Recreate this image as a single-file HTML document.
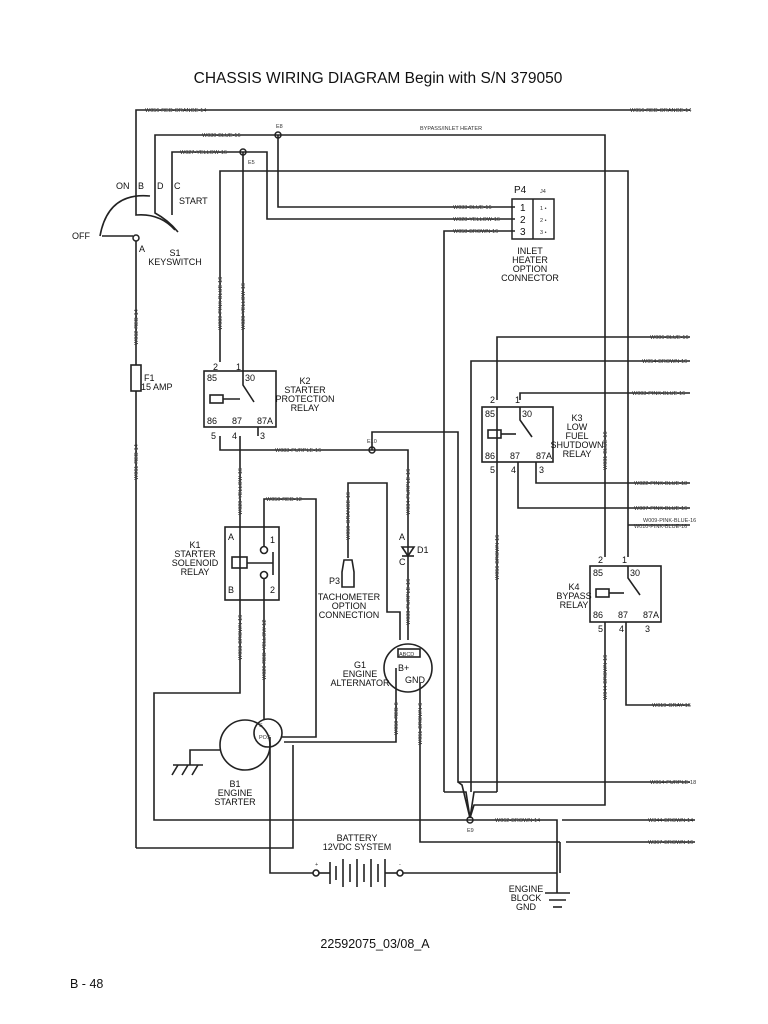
<!DOCTYPE html>
<html><head><meta charset="utf-8"><style>
html,body{margin:0;padding:0;background:#fff;}
svg{display:block;}
text{font-family:"Liberation Sans",sans-serif;fill:#111;}
.s{font-size:5.5px;fill:#333;}
.m{font-size:9px;}
.n{font-size:10px;}
</style></head><body>
<svg width="768" height="1024" viewBox="0 0 768 1024" xmlns="http://www.w3.org/2000/svg">
<rect width="768" height="1024" fill="#fff"/>
<text x="378" y="83" font-size="15.5" text-anchor="middle">CHASSIS WIRING DIAGRAM Begin with S/N 379050</text>
<g fill="none" stroke="#222" stroke-width="1.6">
<polyline points="136,200 136,110 690,110"/>
<polyline points="155,200 155,135 605,135 605,557"/>
<polyline points="278,135 278,207 515,207"/>
<polyline points="172,205 172,152 267,152 267,219 515,219"/>
<polyline points="243,152 243,362"/>
<polyline points="220,362 220,171 628,171 628,557"/>
<polyline points="628,525 690,525"/>
<polyline points="444,792 444,231 515,231"/>
<path d="M100,236 Q108,192 150,196"/>
<path d="M136,200 L136,215 Q160,213 175,230"/>
<path d="M155,200 L155,213 Q168,220 178,232"/>
<path d="M172,205 L172,215"/>
<line x1="102" y1="236" x2="133" y2="236"/>
<line x1="136" y1="241" x2="136" y2="848"/>
<polyline points="136,848 293,848 293,745"/>
<rect x="131" y="365" width="10" height="26" fill="#fff"/>
<rect x="204" y="371" width="72" height="56"/>
<rect x="210" y="395" width="13" height="8"/>
<line x1="223" y1="399" x2="240" y2="399"/>
<polyline points="243,362 243,385 254,402"/>
<polyline points="220,436 220,450 408,450 408,640"/>
<line x1="240" y1="436" x2="240" y2="527"/>
<line x1="258" y1="427" x2="258" y2="436"/>
<polyline points="372,450 372,432 458,432 458,782 690,782"/>
<rect x="225" y="527" width="54" height="73"/>
<rect x="232" y="557" width="15" height="11"/>
<polyline points="247,563 273,563"/>
<line x1="273" y1="552" x2="273" y2="575"/>
<circle cx="264" cy="550" r="3.5"/>
<circle cx="264" cy="575" r="3.5"/>
<polyline points="264,546 264,499 316,499 316,737 282,737"/>
<line x1="240" y1="527" x2="240" y2="600"/>
<polyline points="240,600 240,693 154,693 154,820 470,820"/>
<line x1="264" y1="579" x2="264" y2="720"/>
<circle cx="245" cy="745" r="25"/>
<circle cx="268" cy="733" r="14"/>
<polyline points="220,750 190,750 190,765"/>
<line x1="173" y1="765" x2="203" y2="765"/>
<line x1="178" y1="765" x2="172" y2="775"/><line x1="188" y1="765" x2="182" y2="775"/><line x1="198" y1="765" x2="192" y2="775"/>
<polyline points="270,737 270,873 313,873"/>
<polyline points="348,558 348,483 387,483 387,612 400,612 400,640"/>
<path d="M344,560 L352,560 L354,572 L354,587 L342,587 L342,572 Z"/>
<path d="M402,547 L414,547 L408,556 Z"/>
<line x1="402" y1="556" x2="414" y2="556"/>
<circle cx="408" cy="668" r="24"/>
<rect x="398" y="649" width="22" height="8"/>
<polyline points="396,668 396,742 284,742"/>
<polyline points="420,683 420,842 560,842"/>
<circle cx="316" cy="873" r="3"/>
<circle cx="400" cy="873" r="3"/>
<line x1="403" y1="873" x2="557" y2="873"/>
<line x1="330" y1="862" x2="330" y2="884"/>
<line x1="336" y1="866" x2="336" y2="880"/>
<line x1="343" y1="859" x2="343" y2="887"/>
<line x1="350" y1="864" x2="350" y2="882"/>
<line x1="357" y1="859" x2="357" y2="887"/>
<line x1="364" y1="864" x2="364" y2="882"/>
<line x1="371" y1="859" x2="371" y2="887"/>
<line x1="378" y1="864" x2="378" y2="882"/>
<line x1="385" y1="859" x2="385" y2="887"/>
<line x1="319" y1="873" x2="330" y2="873"/><line x1="385" y1="873" x2="397" y2="873"/>
<polyline points="470,820 557,820 557,893"/>
<polyline points="562,820 695,820"/>
<polyline points="560,842 560,873"/>
<polyline points="566,842 695,842"/>
<line x1="545" y1="893" x2="570" y2="893"/>
<line x1="549" y1="900" x2="566" y2="900"/>
<line x1="553" y1="907" x2="562" y2="907"/>
<polyline points="444,792 466,792 470,818"/>
<polyline points="458,782 462,785 470,818"/>
<polyline points="497,792 474,792 470,818"/>
<polyline points="605,622 605,805 474,805 470,818"/>
<polyline points="497,400 497,337 690,337"/>
<polyline points="471,792 471,361 690,361"/>
<polyline points="520,400 520,393 690,393"/>
<rect x="482" y="407" width="71" height="55"/>
<rect x="488" y="430" width="13" height="8"/>
<line x1="501" y1="434" x2="516" y2="434"/>
<polyline points="520,407 520,420 532,437"/>
<line x1="497" y1="407" x2="497" y2="792"/>
<polyline points="536,462 536,483 690,483"/>
<polyline points="518,462 518,508 690,508"/>
<rect x="590" y="566" width="71" height="56"/>
<rect x="596" y="589" width="13" height="8"/>
<line x1="609" y1="593" x2="624" y2="593"/>
<polyline points="628,566 628,578 640,595"/>
<polyline points="626,622 626,705 690,705"/>
</g>
<g>
<circle cx="278" cy="135" r="3" fill="none" stroke="#222" stroke-width="1.5"/><circle cx="243" cy="152" r="3" fill="none" stroke="#222" stroke-width="1.5"/>
<circle cx="372" cy="450" r="3" fill="none" stroke="#222" stroke-width="1.5"/><circle cx="470" cy="820" r="3" fill="none" stroke="#222" stroke-width="1.5"/>
<circle cx="136" cy="238" r="3" fill="#fff" stroke="#222" stroke-width="1.5"/>
</g>
<text class="s" x="145" y="112">W056-RED-ORANGE-14</text>
<text class="s" x="630" y="112">W056-RED-ORANGE-14</text>
<text class="s" x="202" y="137">W030-BLUE-16</text>
<text class="s" x="420" y="130">BYPASS/INLET HEATER</text>
<text class="s" x="180" y="154">W027-YELLOW-16</text>
<text class="s" x="276" y="128">E8</text><text class="s" x="248" y="164">E5</text>
<text class="s" x="453" y="209">W033-BLUE-16</text>
<text class="s" x="453" y="221">W028-YELLOW-16</text>
<text class="s" x="453" y="233">W058-BROWN-16</text>
<text class="n" x="514" y="193">P4</text><text class="s" x="540" y="193">J4</text>
<rect x="512" y="199" width="42" height="40" fill="none" stroke="#222" stroke-width="1.5"/>
<line x1="533" y1="199" x2="533" y2="239" stroke="#222" stroke-width="1.5"/>
<text class="n" x="520" y="211">1</text><text class="n" x="520" y="223">2</text><text class="n" x="520" y="235">3</text>
<text class="s" x="540" y="210">1 •</text><text class="s" x="540" y="222">2 •</text><text class="s" x="540" y="234">3 •</text>
<text class="m" x="530" y="254" text-anchor="middle">INLET</text><text class="m" x="530" y="263" text-anchor="middle">HEATER</text><text class="m" x="530" y="272" text-anchor="middle">OPTION</text><text class="m" x="530" y="281" text-anchor="middle">CONNECTOR</text>
<text class="m" x="116" y="189">ON</text><text class="m" x="138" y="189">B</text><text class="m" x="157" y="189">D</text><text class="m" x="174" y="189">C</text>
<text class="m" x="179" y="204">START</text><text class="m" x="72" y="239">OFF</text><text class="m" x="139" y="252">A</text>
<text class="m" x="175" y="256" text-anchor="middle">S1</text><text class="m" x="175" y="265" text-anchor="middle">KEYSWITCH</text>
<text class="m" x="144" y="381">F1</text><text class="m" x="141" y="390">15 AMP</text>
<text class="m" x="207" y="381">85</text><text class="m" x="245" y="381">30</text><text class="m" x="207" y="424">86</text><text class="m" x="232" y="424">87</text><text class="m" x="257" y="424">87A</text>
<text class="m" x="213" y="370">2</text><text class="m" x="236" y="370">1</text><text class="m" x="211" y="439">5</text><text class="m" x="232" y="439">4</text><text class="m" x="260" y="439">3</text>
<text class="m" x="305" y="384" text-anchor="middle">K2</text><text class="m" x="305" y="393" text-anchor="middle">STARTER</text><text class="m" x="305" y="402" text-anchor="middle">PROTECTION</text><text class="m" x="305" y="411" text-anchor="middle">RELAY</text>
<text class="s" x="275" y="452">W083-PURPLE-16</text><text class="s" x="367" y="443">E10</text>
<text class="m" x="228" y="540">A</text><text class="m" x="228" y="593">B</text><text class="m" x="270" y="543">1</text><text class="m" x="270" y="593">2</text>
<text class="m" x="195" y="548" text-anchor="middle">K1</text><text class="m" x="195" y="557" text-anchor="middle">STARTER</text><text class="m" x="195" y="566" text-anchor="middle">SOLENOID</text><text class="m" x="195" y="575" text-anchor="middle">RELAY</text>
<text class="s" x="266" y="501">W050-RED-12</text>
<text class="m" x="329" y="584">P3</text>
<text class="m" x="349" y="600" text-anchor="middle">TACHOMETER</text><text class="m" x="349" y="609" text-anchor="middle">OPTION</text><text class="m" x="349" y="618" text-anchor="middle">CONNECTION</text>
<text class="m" x="399" y="540">A</text><text class="m" x="417" y="553">D1</text><text class="m" x="399" y="565">C</text>
<text class="s" x="399" y="656" font-size="6">ABCD</text><text class="m" x="398" y="671">B+</text><text class="m" x="405" y="683">GND</text>
<text class="m" x="360" y="668" text-anchor="middle">G1</text><text class="m" x="360" y="677" text-anchor="middle">ENGINE</text><text class="m" x="360" y="686" text-anchor="middle">ALTERNATOR</text>
<text class="s" x="259" y="727">S</text><text class="s" x="259" y="739">POS</text>
<text class="m" x="235" y="787" text-anchor="middle">B1</text><text class="m" x="235" y="796" text-anchor="middle">ENGINE</text><text class="m" x="235" y="805" text-anchor="middle">STARTER</text>
<text class="m" x="357" y="841" text-anchor="middle">BATTERY</text><text class="m" x="357" y="850" text-anchor="middle">12VDC SYSTEM</text>
<text class="s" x="315" y="866">+</text><text class="s" x="399" y="866">-</text>
<text class="m" x="526" y="892" text-anchor="middle">ENGINE</text><text class="m" x="526" y="901" text-anchor="middle">BLOCK</text><text class="m" x="526" y="910" text-anchor="middle">GND</text>
<text class="s" x="495" y="822">W062-BROWN-14</text><text class="s" x="467" y="832">E9</text>
<text class="s" x="648" y="822">W344-BROWN-14</text><text class="s" x="648" y="844">W367-BROWN-16</text>
<text class="s" x="650" y="784">W064-PURPLE-18</text><text class="s" x="652" y="707">W019-GRAY-16</text>
<text class="s" x="650" y="339">W006-BLUE-16</text><text class="s" x="642" y="363">W054-BROWN-16</text><text class="s" x="632" y="395">W003-PINK-BLUE-16</text>
<text class="s" x="634" y="485">W022-PINK-BLUE-18</text><text class="s" x="634" y="510">W007-PINK-BLUE-16</text>
<text class="s" x="643" y="522">W009-PINK-BLUE-16</text><text class="s" x="634" y="528">W010-PINK-BLUE-16</text>
<text class="m" x="485" y="417">85</text><text class="m" x="522" y="417">30</text><text class="m" x="485" y="459">86</text><text class="m" x="510" y="459">87</text><text class="m" x="536" y="459">87A</text>
<text class="m" x="490" y="403">2</text><text class="m" x="515" y="403">1</text><text class="m" x="490" y="473">5</text><text class="m" x="511" y="473">4</text><text class="m" x="539" y="473">3</text>
<text class="m" x="577" y="421" text-anchor="middle">K3</text><text class="m" x="577" y="430" text-anchor="middle">LOW</text><text class="m" x="577" y="439" text-anchor="middle">FUEL</text><text class="m" x="577" y="448" text-anchor="middle">SHUTDOWN</text><text class="m" x="577" y="457" text-anchor="middle">RELAY</text>
<text class="m" x="593" y="576">85</text><text class="m" x="630" y="576">30</text><text class="m" x="593" y="618">86</text><text class="m" x="618" y="618">87</text><text class="m" x="643" y="618">87A</text>
<text class="m" x="598" y="563">2</text><text class="m" x="622" y="563">1</text><text class="m" x="598" y="632">5</text><text class="m" x="619" y="632">4</text><text class="m" x="645" y="632">3</text>
<text class="m" x="574" y="590" text-anchor="middle">K4</text><text class="m" x="574" y="599" text-anchor="middle">BYPASS</text><text class="m" x="574" y="608" text-anchor="middle">RELAY</text>
<text class="s" transform="translate(138,345) rotate(-90)">W062-RED-14</text>
<text class="s" transform="translate(138,480) rotate(-90)">W061-RED-14</text>
<text class="s" transform="translate(222,330) rotate(-90)">W009-PINK-BLUE-16</text>
<text class="s" transform="translate(245,330) rotate(-90)">W028-YELLOW-16</text>
<text class="s" transform="translate(242,515) rotate(-90)">W028-YELLOW-16</text>
<text class="s" transform="translate(242,660) rotate(-90)">W053-BROWN-16</text>
<text class="s" transform="translate(266,680) rotate(-90)">W026-RED-YELLOW-12</text>
<text class="s" transform="translate(350,540) rotate(-90)">W050-ORANGE-16</text>
<text class="s" transform="translate(410,515) rotate(-90)">W034-PURPLE-16</text>
<text class="s" transform="translate(410,625) rotate(-90)">W033-PURPLE-16</text>
<text class="s" transform="translate(398,735) rotate(-90)">W050-RED-6</text>
<text class="s" transform="translate(422,745) rotate(-90)">W051-BROWN-6</text>
<text class="s" transform="translate(499,580) rotate(-90)">W056-BROWN-16</text>
<text class="s" transform="translate(607,470) rotate(-90)">W031-BLUE-16</text>
<text class="s" transform="translate(607,700) rotate(-90)">W044-BROWN-16</text>
<text x="375" y="948" font-size="12.5" text-anchor="middle">22592075_03/08_A</text>
<text x="70" y="988" font-size="12.5">B - 48</text>
</svg>
</body></html>
